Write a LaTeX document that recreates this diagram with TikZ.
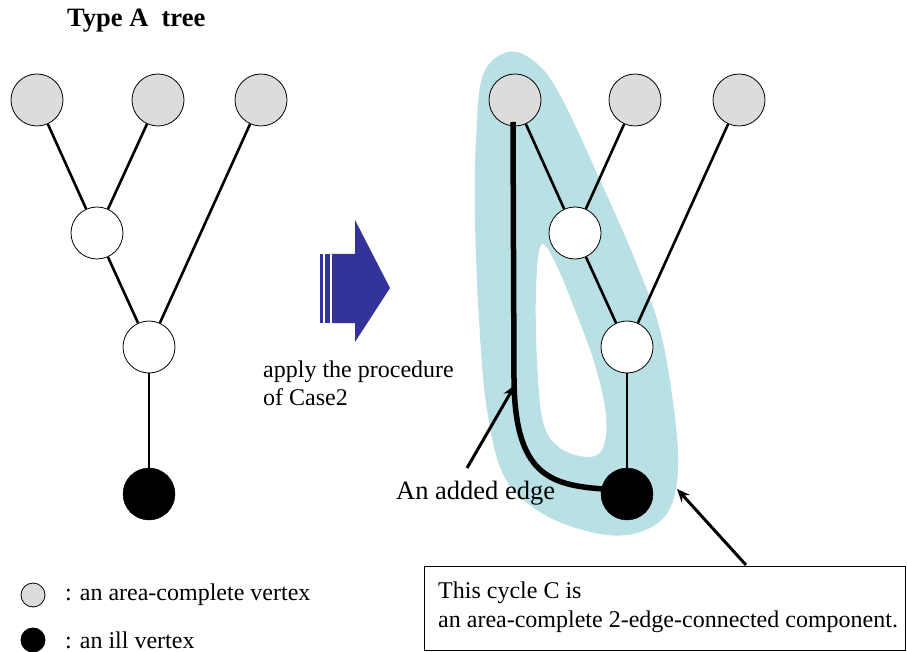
\documentclass[tikz,border=0pt]{standalone}
\usepackage{fontspec}
\setmainfont{Liberation Serif}
\usetikzlibrary{arrows.meta}
\definecolor{teal1}{HTML}{B9E0E4}
\definecolor{navy1}{HTML}{333399}
\definecolor{gray1}{HTML}{DCDCDC}
\begin{document}
\begin{tikzpicture}[x=1pt,y=-1pt,
  vgray/.style={circle,draw=black,line width=0.8pt,fill=gray1,minimum size=52pt,inner sep=0pt},
  vwhite/.style={circle,draw=black,line width=0.8pt,fill=white,minimum size=52pt,inner sep=0pt},
  vblack/.style={circle,draw=black,fill=black,minimum size=52pt,inner sep=0pt},
  tedge/.style={line width=2.6pt},
  lbl/.style={font=\fontsize{24}{25}\selectfont,anchor=west,inner sep=0pt},
  ptr/.style={line width=3pt,-{Stealth[length=13pt,width=11pt]}}]
\useasboundingbox (0,0) rectangle (907,652);
% title
\node[font=\bfseries\fontsize{26.5}{30}\selectfont,anchor=west,inner sep=0pt] (title) at (67,21) {Type A\ \ tree};
% left tree
\node[vgray] (a1) at (37,100) {};
\node[vgray] (a2) at (158,100) {};
\node[vgray] (a3) at (261,100) {};
\node[vwhite] (a4) at (97,233) {};
\node[vwhite] (a5) at (149,347) {};
\node[vblack] (a6) at (149,494) {};
\draw[tedge] (a1) -- (a4);
\draw[tedge] (a2) -- (a4);
\draw[tedge] (a4) -- (a5);
\draw[tedge] (a3) -- (a5);
\draw[tedge] (a5) -- (a6);
% arrow
\fill[navy1] (320,254) rectangle (323,323);
\fill[navy1] (325,254) rectangle (330,323);
\fill[navy1] (332,254) -- (355,254) -- (355,220) -- (390,288) -- (355,342) -- (355,323) -- (332,323) -- cycle;
\node[lbl,anchor=west] (apply1) at (263,372) {apply the procedure};
\node[lbl,anchor=west] (apply2) at (263,397) {of Case2};
% teal blob
\fill[teal1,even odd rule]
  plot[smooth cycle,tension=0.6] coordinates {(508,52) (535,62) (560,95) (600,180) (635,260) (660,330) (674,410) (678,470) (668,512) (640,532) (600,534) (545,515) (505,478) (487,410) (479,320) (475,220) (476,140) (483,75)}
  plot[smooth cycle,tension=0.6] coordinates {(541,245) (555,262) (575,310) (595,365) (606,415) (603,448) (588,457) (560,448) (543,422) (537,360) (536,290)};
% right tree
\node[vgray] (b1) at (515,100) {};
\node[vgray] (b2) at (635,100) {};
\node[vgray] (b3) at (739,100) {};
\node[vwhite] (b4) at (575,233) {};
\node[vwhite] (b5) at (627,347) {};
\node[vblack] (b6) at (627,494) {};
\draw[tedge] (b1) -- (b4);
\draw[tedge] (b2) -- (b4);
\draw[tedge] (b4) -- (b5);
\draw[tedge] (b3) -- (b5);
\draw[tedge] (b5) -- (b6);
% added edge
\coordinate (ae1) at (513,122);
\coordinate (ae2) at (603,489);
\draw[line width=5.5pt] (ae1) -- (514,380) .. controls (515,475) and (550,485) .. (ae2);
% added edge label
\node[font=\fontsize{26.5}{30}\selectfont,anchor=west,inner sep=0pt] (added) at (396,493) {An added edge};
\coordinate (p1s) at (467,468);
\coordinate (p1e) at (515,385);
\draw[ptr] (p1s) -- (p1e);
% callout
\node[draw=black,line width=0.8pt,anchor=north west,minimum width=481pt,minimum height=84pt,inner sep=0pt] (box) at (424,566) {};
\node[lbl] (bt1) at (438,593) {This cycle C is};
\node[lbl] (bt2) at (438,622) {an area-complete 2-edge-connected component.};
\coordinate (p2s) at (746,565);
\coordinate (p2e) at (677,489);
\draw[ptr] (p2s) -- (p2e);
% legend
\node[circle,draw=black,line width=0.8pt,fill=gray1,minimum size=24pt,inner sep=0pt] (lg1) at (33,595) {};
\node[circle,fill=black,minimum size=25pt,inner sep=0pt] (lg2) at (33,640) {};
\node[lbl] (lt1) at (65,595) {: an area-complete vertex};
\node[lbl] (lt2) at (65,640) {: an ill vertex};
\end{tikzpicture}
\end{document}
